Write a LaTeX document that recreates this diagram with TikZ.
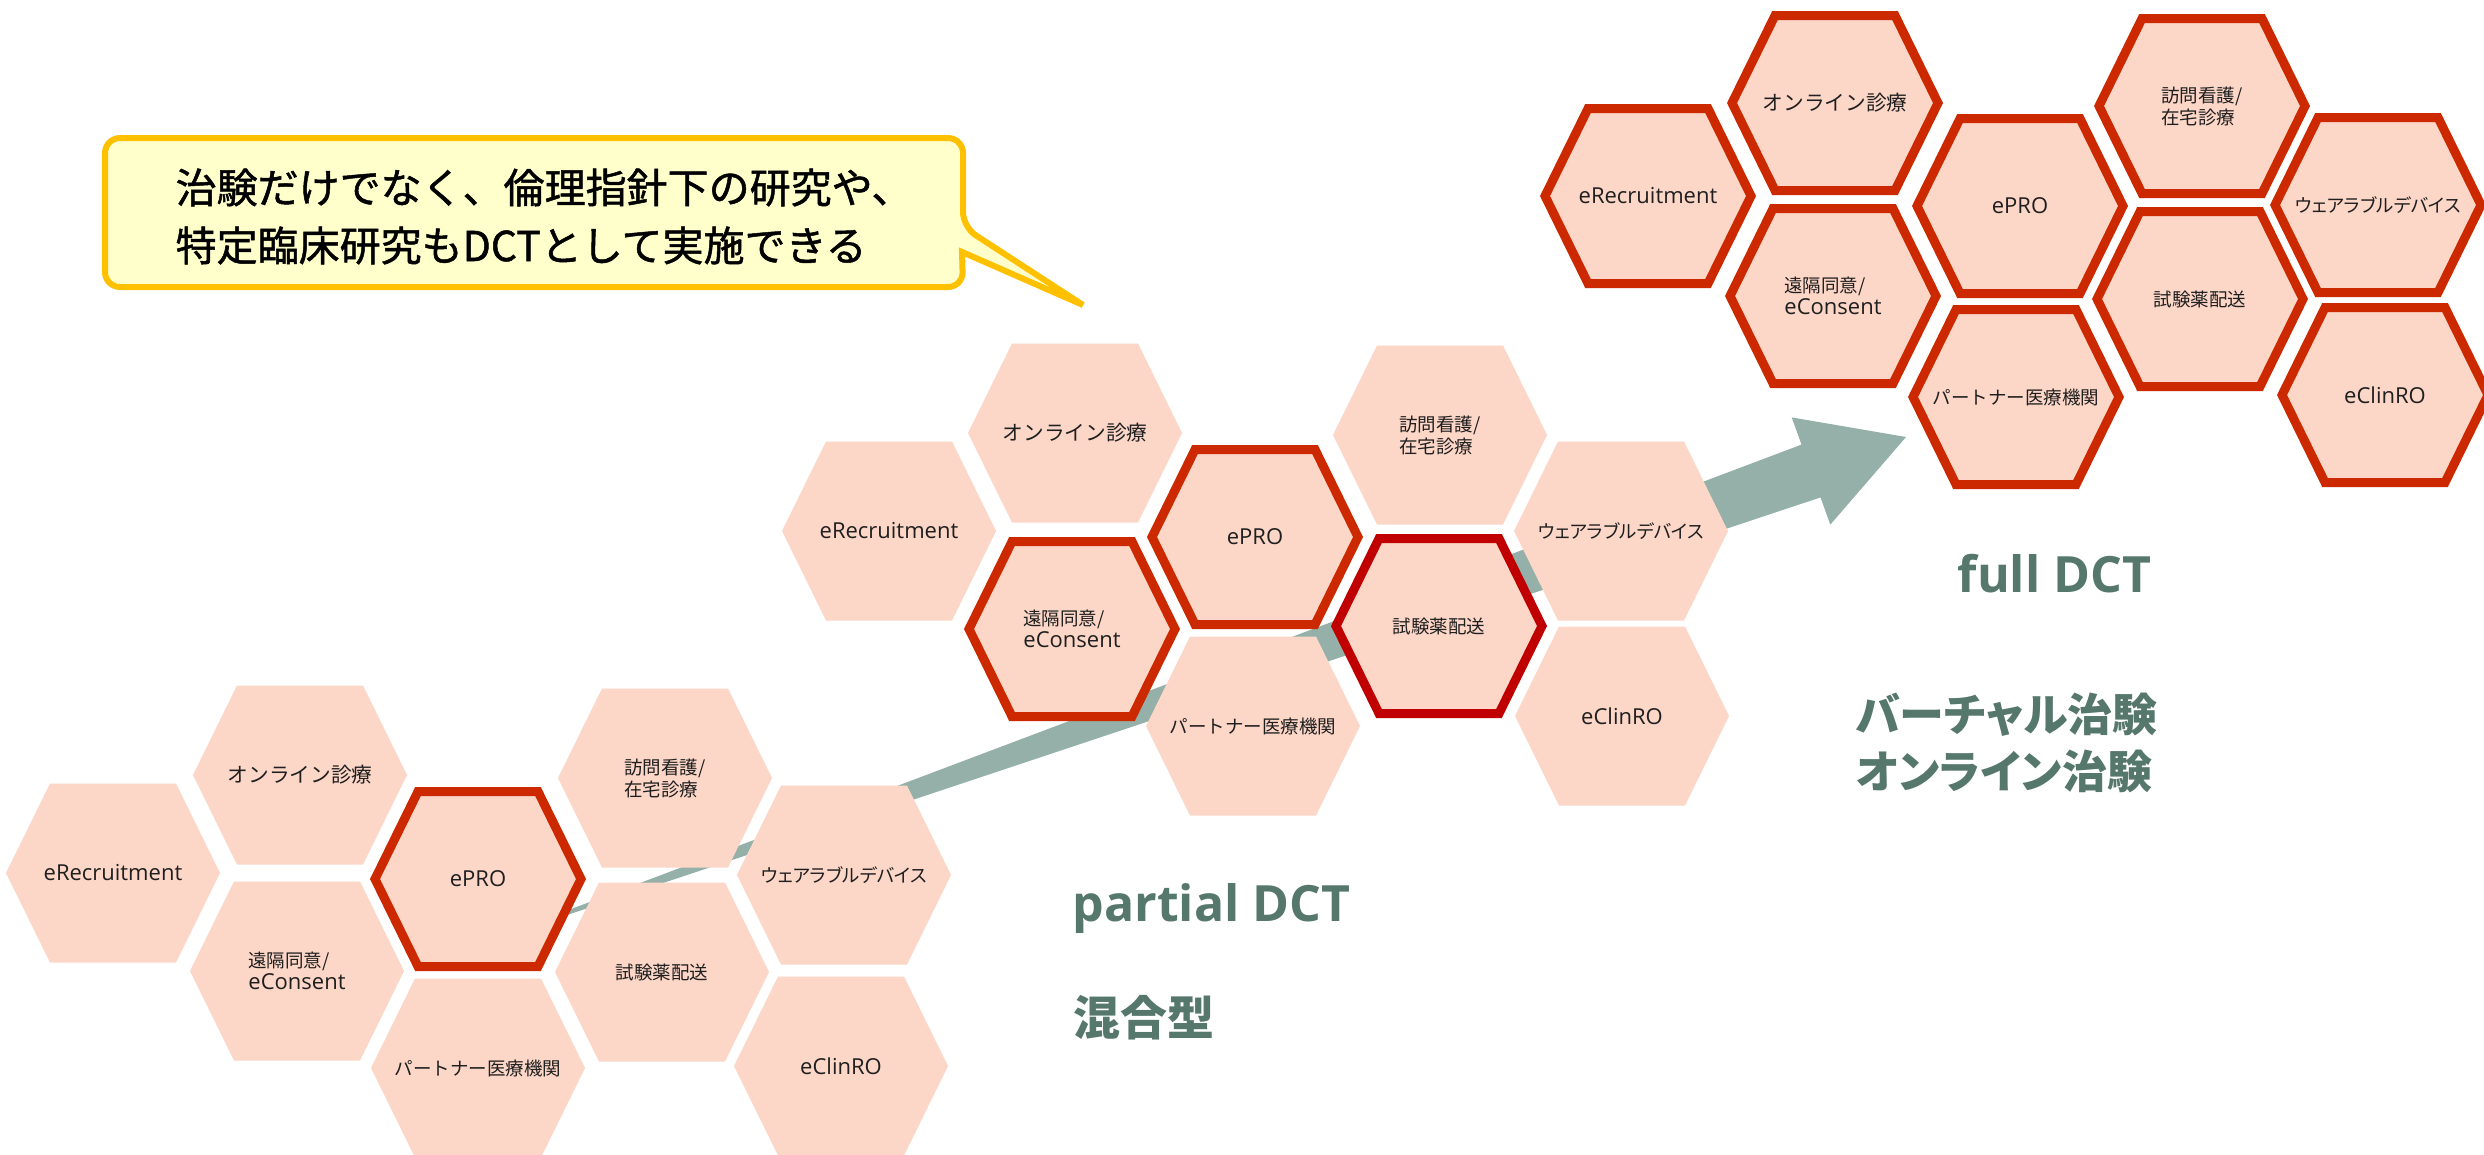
\documentclass[tikz,border=0pt]{standalone}
\usepackage{fontspec}
\setmainfont{Noto Sans CJK JP}
\newfontfamily\jpfont{Noto Sans CJK JP}
\newfontfamily\jppfont{Noto Sans CJK JP}[CharacterWidth=AlternateProportional]
\newfontfamily\jpheavy{Noto Sans CJK JP}[FakeBold=1.2]
\newfontfamily\opensans{Open Sans}
\definecolor{hexpink}{RGB}{252,214,199}
\definecolor{hexred}{RGB}{204,41,0}
\definecolor{hexdark}{RGB}{192,0,0}
\definecolor{arrowgreen}{RGB}{148,176,168}
\definecolor{labelgreen}{RGB}{85,119,108}
\definecolor{callfill}{RGB}{255,255,204}
\definecolor{callline}{RGB}{255,192,0}
% Japanese part of a cell label
\newcommand\jc[1]{{\jpfont\fontsize{5.55}{6.6}\selectfont #1}}
% wide Japanese cell label
\newcommand\jw[1]{{\jpfont\fontsize{6.2}{6.6}\selectfont #1}}
% narrow Japanese cell label
\newcommand\jn[1]{{\jppfont\fontsize{5.55}{6.6}\selectfont #1}}
% plain hexagon cell: name, x, y, text
\newcommand\hexplain[4]{%
  \begin{scope}[shift={(#2,#3)}]
    \path[hexbody] (-107,0) -- (-63,-89.5) -- (63,-89.5) -- (107,0) -- (63,89.5) -- (-63,89.5) -- cycle;
  \end{scope}
  \node[hexlabel] (#1) at (#2,#3) {#4};}
% outlined hexagon cell: name, x, y, outline colour, text
\newcommand\hexring[5]{%
  \begin{scope}[shift={(#2,#3)}]
    \path[hexbody, hexrim=#4] (-103,0) -- (-60,-87.5) -- (60,-87.5) -- (103,0) -- (60,87.5) -- (-60,87.5) -- cycle;
  \end{scope}
  \node[hexlabel] (#1) at (#2,#3) {#5};}
\begin{document}
\begin{tikzpicture}[x=0.3pt,y=-0.3pt,
  hexbody/.style={fill=hexpink},
  hexrim/.style={draw=#1, line width=2.7pt, line join=miter},
  hexlabel/.style={inner sep=0pt, align=left, text=black!88,
    font=\opensans\fontsize{6.6}{6.6}\selectfont},
  bigarrow/.style={fill=arrowgreen},
  callbox/.style={fill=callfill, draw=callline, line width=1.8pt, line join=miter},
  calltext/.style={inner sep=0pt, text=black, font=\jpheavy\fontsize{12.3}{17.4}\selectfont},
  latinlbl/.style={inner sep=0pt, text=labelgreen, font=\opensans\bfseries\fontsize{15}{18}\selectfont},
  jplbl/.style={inner sep=0pt, text=labelgreen, font=\jppfont\bfseries\fontsize{13.5}{17}\selectfont}]
\clip (0,0) rectangle (2484,1154);
\fill[white] (0,0) rectangle (2484,1154);

% block arrow (behind the cells)
\coordinate (atailA) at (520,928.3);
\coordinate (ainA) at (1801.5,444.6);
\coordinate (abarbA) at (1791.7,417.4);
\coordinate (atip) at (1906,437);
\coordinate (abarbB) at (1830.3,524.6);
\coordinate (ainB) at (1820.5,497.4);
\coordinate (atailB) at (525,929);
\path[bigarrow] (atailA) -- (ainA) -- (abarbA) -- (atip) -- (abarbB) -- (ainB) -- (atailB) -- cycle;

% group 1 : starting point
\hexplain{aRec}{113}{873}{eRecruitment}
\hexplain{aOnl}{300}{775}{\jw{オンライン診療}}
\hexplain{aCon}{297}{971}{\jc{遠隔同意/}\\eConsent}
\hexring{aPRO}{478}{879}{hexred}{ePRO}
\hexplain{aPar}{478}{1068}{\jc{パートナー医療機関}}
\hexplain{aVis}{665}{778}{\jc{訪問看護/}\\\jc{在宅診療}}
\hexplain{aDel}{662}{972}{\jc{試験薬配送}}
\hexplain{aWea}{844}{875}{\jn{ウェアラブルデバイス}}
\hexplain{aCli}{841}{1066}{eClinRO}

% group 2 : partial DCT
\hexplain{bRec}{889}{531}{eRecruitment}
\hexplain{bOnl}{1075}{433}{\jw{オンライン診療}}
\hexring{bCon}{1072}{629}{hexred}{\jc{遠隔同意/}\\eConsent}
\hexring{bPRO}{1255}{537}{hexred}{ePRO}
\hexplain{bPar}{1253}{726}{\jc{パートナー医療機関}}
\hexplain{bVis}{1440}{435}{\jc{訪問看護/}\\\jc{在宅診療}}
\hexring{bDel}{1439}{626}{hexdark}{\jc{試験薬配送}}
\hexplain{bWea}{1621}{531}{\jn{ウェアラブルデバイス}}
\hexplain{bCli}{1622}{716}{eClinRO}

% group 3 : full DCT
\hexring{cRec}{1648}{196}{hexred}{eRecruitment}
\hexring{cOnl}{1835}{103}{hexred}{\jw{オンライン診療}}
\hexring{cCon}{1833}{296}{hexred}{\jc{遠隔同意/}\\eConsent}
\hexring{cPRO}{2020}{206}{hexred}{ePRO}
\hexring{cPar}{2016}{397}{hexred}{\jc{パートナー医療機関}}
\hexring{cVis}{2202}{106}{hexred}{\jc{訪問看護/}\\\jc{在宅診療}}
\hexring{cDel}{2200}{299}{hexred}{\jc{試験薬配送}}
\hexring{cWea}{2378}{205}{hexred}{\jn{ウェアラブルデバイス}}
\hexring{cCli}{2385}{395}{hexred}{eClinRO}

% callout
\path[callbox] (105,210) [rounded corners=4.5pt] -- (105,138) -- (963,138) -- (963,227)
  [sharp corners] -- (1083,305) -- (962,252)
  [rounded corners=4.5pt] -- (963,287) -- (105,287) -- cycle;
\node[calltext, anchor=base west] (callA) at (175,203) {治験だけでなく、倫理指針下の研究や、};
\node[calltext, anchor=base west] (callB) at (175,261) {特定臨床研究もDCTとして実施できる};

% stage labels
\node[latinlbl, anchor=base west] (partial) at (1072,921) {partial DCT};
\node[jplbl, anchor=base west, font=\jpfont\bfseries\fontsize{14.1}{17}\selectfont] (mixed) at (1073,1035) {混合型};
\node[latinlbl, anchor=base west] (full) at (1957,592) {full DCT};
\node[jplbl, anchor=base west] (virtual) at (1855,731) {バーチャル治験};
\node[jplbl, anchor=base west] (online) at (1855,788) {オンライン治験};
\end{tikzpicture}
\end{document}
